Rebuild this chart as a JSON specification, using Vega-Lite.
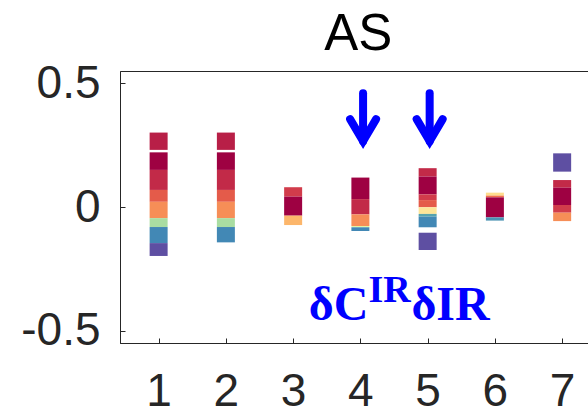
{
  "$schema": "https://vega.github.io/schema/vega-lite/v6.json",
  "width": 468,
  "height": 272,
  "autosize": {"type": "none"},
  "padding": {"left": 120, "top": 71, "right": 0, "bottom": 68},
  "background": "white",
  "config": {
    "view": {"stroke": "#262626", "strokeWidth": 1},
    "axis": {"grid": false, "domainColor": "#262626", "tickColor": "#262626", "labelColor": "#262626", "labelFont": "Liberation Sans", "labelFontSize": 46, "tickSize": -5, "title": null}
  },
  "datasets": {
    "cells": [
      {"x": 1, "hi": 0.301, "lo": 0.231, "t": 0.05},
      {"x": 1, "hi": 0.221, "lo": 0.150, "t": 0},
      {"x": 1, "hi": 0.150, "lo": 0.069, "t": 0.07},
      {"x": 1, "hi": 0.069, "lo": 0.021, "t": 0.16},
      {"x": 1, "hi": 0.021, "lo": -0.045, "t": 0.25},
      {"x": 1, "hi": -0.045, "lo": -0.081, "t": 0.7},
      {"x": 1, "hi": -0.081, "lo": -0.146, "t": 0.9},
      {"x": 1, "hi": -0.146, "lo": -0.198, "t": 1},
      {"x": 2, "hi": 0.301, "lo": 0.231, "t": 0.05},
      {"x": 2, "hi": 0.221, "lo": 0.150, "t": 0},
      {"x": 2, "hi": 0.150, "lo": 0.069, "t": 0.07},
      {"x": 2, "hi": 0.069, "lo": 0.021, "t": 0.16},
      {"x": 2, "hi": 0.021, "lo": -0.045, "t": 0.25},
      {"x": 2, "hi": -0.045, "lo": -0.081, "t": 0.7},
      {"x": 2, "hi": -0.081, "lo": -0.143, "t": 0.9},
      {"x": 3, "hi": 0.080, "lo": 0.042, "t": 0.1},
      {"x": 3, "hi": 0.042, "lo": -0.035, "t": 0},
      {"x": 3, "hi": -0.035, "lo": -0.073, "t": 0.32},
      {"x": 4, "hi": 0.119, "lo": 0.032, "t": 0},
      {"x": 4, "hi": 0.032, "lo": -0.030, "t": 0.07},
      {"x": 4, "hi": -0.030, "lo": -0.077, "t": 0.25},
      {"x": 4, "hi": -0.077, "lo": -0.082, "t": 0.6},
      {"x": 4, "hi": -0.082, "lo": -0.097, "t": 0.9},
      {"x": 5, "hi": 0.157, "lo": 0.123, "t": 0.07},
      {"x": 5, "hi": 0.123, "lo": 0.051, "t": 0},
      {"x": 5, "hi": 0.051, "lo": 0.028, "t": 0.1},
      {"x": 5, "hi": 0.028, "lo": -0.001, "t": 0.16},
      {"x": 5, "hi": -0.001, "lo": -0.028, "t": 0.43},
      {"x": 5, "hi": -0.028, "lo": -0.039, "t": 0.85},
      {"x": 5, "hi": -0.039, "lo": -0.082, "t": 0.9},
      {"x": 5, "hi": -0.104, "lo": -0.174, "t": 1},
      {"x": 6, "hi": 0.058, "lo": 0.046, "t": 0.4},
      {"x": 6, "hi": 0.046, "lo": 0.039, "t": 0.2},
      {"x": 6, "hi": 0.039, "lo": -0.042, "t": 0},
      {"x": 6, "hi": -0.042, "lo": -0.055, "t": 0.88},
      {"x": 7, "hi": 0.217, "lo": 0.143, "t": 1},
      {"x": 7, "hi": 0.109, "lo": 0.078, "t": 0.07},
      {"x": 7, "hi": 0.078, "lo": 0.008, "t": 0},
      {"x": 7, "hi": 0.008, "lo": -0.023, "t": 0.1},
      {"x": 7, "hi": -0.023, "lo": -0.057, "t": 0.25}
    ],
    "arrows": [
      {"x": 4.04, "top": 0.46, "tip": 0.266},
      {"x": 5.03, "top": 0.46, "tip": 0.266}
    ],
    "labels": [
      {"x": 3.233, "y": -0.457, "text": "δC", "part": "main"},
      {"x": 4.12, "y": -0.383, "text": "IR", "part": "sup"},
      {"x": 4.759, "y": -0.457, "text": "δIR", "part": "main"}
    ],
    "titles": [
      {"x": 3.967, "y": 0.633, "text": "AS"}
    ]
  },
  "layer": [
    {
      "data": {"name": "cells"},
      "mark": {"type": "bar", "width": 18, "opacity": 1},
      "encoding": {
        "x": {"field": "x", "type": "quantitative", "scale": {"domain": [0.5, 7.31], "nice": false, "zero": false},
              "axis": {"values": [1, 2, 3, 4, 5, 6, 7], "format": "d", "labelPadding": 31, "labelFlush": false}},
        "y": {"field": "hi", "type": "quantitative", "scale": {"domain": [-0.55, 0.55], "nice": false, "zero": false},
              "axis": {"values": [-0.5, 0, 0.5], "labelPadding": 25, "labelExpr": "datum.value == 0 ? '0' : replace(format(datum.value, '.1f'), '−', '-')"}},
        "y2": {"field": "lo"},
        "color": {"field": "t", "type": "quantitative", "scale": {"scheme": "spectral", "domain": [0, 1]}, "legend": null}
      }
    },
    {
      "data": {"name": "arrows"},
      "mark": {"type": "rule", "color": "#0000ff", "strokeWidth": 8, "strokeCap": "round"},
      "encoding": {
        "x": {"field": "x", "type": "quantitative"},
        "y": {"field": "top", "type": "quantitative"},
        "y2": {"field": "tip"}
      }
    },
    {
      "data": {"name": "arrows"},
      "mark": {"type": "point", "shape": "M-1,-1.7L0,0L1,-1.7", "size": 676, "filled": false, "stroke": "#0000ff", "strokeWidth": 8, "strokeCap": "round", "strokeJoin": "miter", "opacity": 1},
      "encoding": {
        "x": {"field": "x", "type": "quantitative"},
        "y": {"field": "tip", "type": "quantitative"}
      }
    },
    {
      "data": {"name": "labels"},
      "transform": [{"filter": "datum.part == 'main'"}],
      "mark": {"type": "text", "font": "Liberation Serif", "fontWeight": "bold", "fontSize": 48, "color": "#0000ff", "baseline": "alphabetic", "align": "left"},
      "encoding": {
        "x": {"field": "x", "type": "quantitative"},
        "y": {"field": "y", "type": "quantitative"},
        "text": {"field": "text"}
      }
    },
    {
      "data": {"name": "labels"},
      "transform": [{"filter": "datum.part == 'sup'"}],
      "mark": {"type": "text", "font": "Liberation Serif", "fontWeight": "bold", "fontSize": 38, "color": "#0000ff", "baseline": "alphabetic", "align": "left"},
      "encoding": {
        "x": {"field": "x", "type": "quantitative"},
        "y": {"field": "y", "type": "quantitative"},
        "text": {"field": "text"}
      }
    },
    {
      "data": {"name": "titles"},
      "mark": {"type": "text", "font": "Liberation Sans", "fontSize": 51, "color": "#000000", "baseline": "alphabetic", "align": "center", "clip": false},
      "encoding": {
        "x": {"field": "x", "type": "quantitative"},
        "y": {"field": "y", "type": "quantitative"},
        "text": {"field": "text"}
      }
    }
  ]
}
